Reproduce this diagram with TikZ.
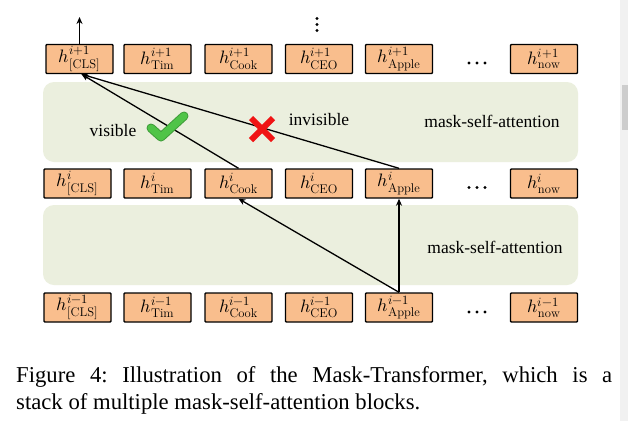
\documentclass[tikz,border=0pt]{standalone}
\usepackage{fontspec}
\usepackage{unicode-math}
\setmathfont{Latin Modern Math}
\newfontfamily\capfont{Liberation Serif}
\usetikzlibrary{arrows.meta}
\definecolor{boxfill}{RGB}{249,190,141}
\definecolor{bandfill}{RGB}{235,239,222}
\definecolor{checkgreen}{RGB}{80,196,72}
\definecolor{crossred}{RGB}{240,20,20}
\definecolor{scrollbg}{RGB}{241,241,241}
\definecolor{scrollthumb}{RGB}{205,205,205}
\tikzset{
  hbox/.style={draw=black, line width=1.4pt, fill=boxfill, minimum width=67pt, minimum height=29pt, inner sep=0pt, font=\fontsize{18}{18}\selectfont, rounded corners=0.8pt},
  band/.style={fill=bandfill, draw=none, rounded corners=11pt},
  conn/.style={line width=1.3pt, -{Stealth[length=7pt,width=6pt]}},
  lbl/.style={font=\capfont\fontsize{17.5}{17.5}\selectfont},
  dotpt/.style={circle, fill=black, inner sep=0pt, minimum size=3.2pt}
}
\begin{document}
\begin{tikzpicture}[x=1pt,y=-1pt]
\useasboundingbox (0,0) rectangle (628,421);
\fill[white] (0,0) rectangle (628,421);
% scrollbar
\fill[scrollbg] (620,0) rectangle (628,421);
\fill[scrollthumb] (622,85) rectangle (628,130);
% bands
\fill[band] (43,82) rectangle (578,162);
\fill[band] (43,205) rectangle (578,285);
% top row
\node[hbox] (cls2) at (79.5,59) {$h^{i+1}_{\mathrm{[CLS]}}$};
\node[hbox] (tim2) at (157.5,59) {$h^{i+1}_{\mathrm{Tim}}$};
\node[hbox] (cook2) at (238.5,59) {$h^{i+1}_{\mathrm{Cook}}$};
\node[hbox] (ceo2) at (319,59) {$h^{i+1}_{\mathrm{CEO}}$};
\node[hbox] (apple2) at (399,59) {$h^{i+1}_{\mathrm{Apple}}$};
\node[hbox] (now2) at (544,59) {$h^{i+1}_{\mathrm{now}}$};
% middle row
\node[hbox] (cls1) at (77.5,183.5) {$h^{i}_{\mathrm{[CLS]}}$};
\node[hbox] (tim1) at (157.5,183.5) {$h^{i}_{\mathrm{Tim}}$};
\node[hbox] (cook1) at (238.5,183.5) {$h^{i}_{\mathrm{Cook}}$};
\node[hbox] (ceo1) at (319,183.5) {$h^{i}_{\mathrm{CEO}}$};
\node[hbox] (apple1) at (399,183.5) {$h^{i}_{\mathrm{Apple}}$};
\node[hbox] (now1) at (544,183.5) {$h^{i}_{\mathrm{now}}$};
% bottom row
\node[hbox] (cls0) at (77.5,307.5) {$h^{i-1}_{\mathrm{[CLS]}}$};
\node[hbox] (tim0) at (157.5,307.5) {$h^{i-1}_{\mathrm{Tim}}$};
\node[hbox] (cook0) at (238.5,307.5) {$h^{i-1}_{\mathrm{Cook}}$};
\node[hbox] (ceo0) at (319,307.5) {$h^{i-1}_{\mathrm{CEO}}$};
\node[hbox] (apple0) at (399,307.5) {$h^{i-1}_{\mathrm{Apple}}$};
\node[hbox] (now0) at (544,307.5) {$h^{i-1}_{\mathrm{now}}$};
% horizontal ellipses
\foreach \yy in {63,187.5,312}{
  \foreach \xx in {469,477,485}{
    \fill (\xx,\yy) circle (1.6pt);
  }
}
% vertical dots
\foreach \yy in {18.5,24.5,30.5}{
  \fill (317,\yy) circle (1.6pt);
}
% output arrow
\coordinate (out) at (79.5,17);
\draw[conn] (cls2.north) -- (out);
% connectors
\draw[conn] (cook1.north) -- ([xshift=2pt]cls2.south);
\draw[conn] (apple1.north) -- ([xshift=2pt]cls2.south);
\draw[conn] (apple0.north) -- (cook1.south);
\draw[conn] (apple0.north) -- (apple1.south);
% labels
\node[lbl] (vis) at (113,131) {visible};
\node[lbl] (invis) at (319,120) {invisible};
\node[lbl] (msa1) at (492,121) {mask-self-attention};
\node[lbl] (msa2) at (495,247) {mask-self-attention};
% check mark
\draw[checkgreen!80!black, line width=9pt, line cap=round, line join=round] (151,128) -- (161,137) -- (184,116);
\draw[checkgreen, line width=7pt, line cap=round, line join=round] (151,128) -- (161,137) -- (184,116);
% cross
\draw[crossred, line width=6pt] (251,118) -- (273,140);
\draw[crossred, line width=6pt] (273,118) -- (251,140);
% caption
\node[anchor=base west, inner sep=0pt, font=\capfont\fontsize{22.7}{27}\selectfont] (cap1) at (16,382) {\frenchspacing\makebox[596pt][s]{Figure 4: Illustration of the Mask-Transformer, which is a}};
\node[anchor=base west, inner sep=0pt, font=\capfont\fontsize{22.7}{27}\selectfont] (cap2) at (16,409) {\frenchspacing stack of multiple mask-self-attention blocks.};
\end{tikzpicture}
\end{document}
